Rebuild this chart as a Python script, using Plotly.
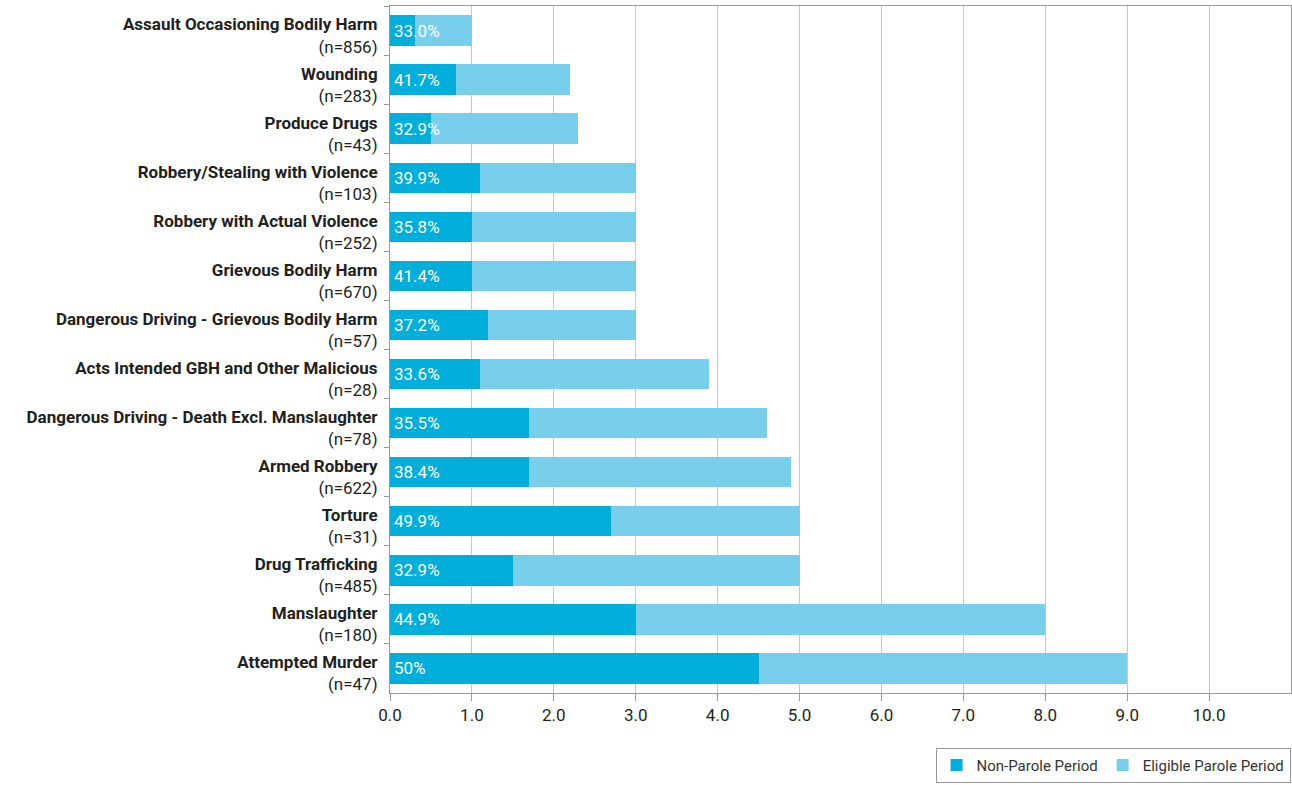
import plotly.graph_objects as go

offences = [
    "Assault Occasioning Bodily Harm", "Wounding", "Produce Drugs",
    "Robbery/Stealing with Violence", "Robbery with Actual Violence",
    "Grievous Bodily Harm", "Dangerous Driving - Grievous Bodily Harm",
    "Acts Intended GBH and Other Malicious",
    "Dangerous Driving - Death Excl. Manslaughter", "Armed Robbery",
    "Torture", "Drug Trafficking", "Manslaughter", "Attempted Murder",
]
counts = [856, 283, 43, 103, 252, 670, 57, 28, 78, 622, 31, 485, 180, 47]
non_parole = [0.3, 0.8, 0.5, 1.1, 1.0, 1.0, 1.2, 1.1, 1.7, 1.7, 2.7, 1.5, 3.0, 4.5]
total_sentence = [1.0, 2.2, 2.3, 3.0, 3.0, 3.0, 3.0, 3.9, 4.6, 4.9, 5.0, 5.0, 8.0, 9.0]
pct_labels = ["33.0%", "41.7%", "32.9%", "39.9%", "35.8%", "41.4%", "37.2%",
              "33.6%", "35.5%", "38.4%", "49.9%", "32.9%", "44.9%", "50%"]
x_ticks = [0, 1, 2, 3, 4, 5, 6, 7, 8, 9, 10]

eligible = [round(t - n, 2) for t, n in zip(total_sentence, non_parole)]
cats = [f"<b>{o}</b><br>(n={c})" for o, c in zip(offences, counts)]

FONT = "Roboto"
fig = go.Figure()
fig.add_trace(go.Bar(y=cats, x=non_parole, orientation="h", name="Non-Parole Period",
                     marker=dict(color="#00AEDB", line=dict(width=0))))
fig.add_trace(go.Bar(y=cats, x=eligible, orientation="h", name="Eligible Parole Period",
                     marker=dict(color="#78CFEB", line=dict(width=0))))

for c, p in zip(cats, pct_labels):
    fig.add_annotation(x=0, y=c, text=p, xref="x", yref="y", showarrow=False,
                       xanchor="left", xshift=2, font=dict(color="white", size=17, family=FONT))

fig.update_layout(
    barmode="stack", bargap=0.38,
    width=1292, height=785,
    margin=dict(l=390, r=1, t=6, b=92, autoexpand=False),
    plot_bgcolor="white", paper_bgcolor="white",
    font=dict(family=FONT, color="#231f20", size=16),
    legend=dict(orientation="h", x=0.9995, xanchor="right", yref="container", y=0.003,
                yanchor="bottom", bordercolor="#999999", borderwidth=1,
                font=dict(size=15, color="#333"), traceorder="normal", itemwidth=30),
    showlegend=True,
)
fig.update_xaxes(range=[0, 11], tickvals=x_ticks, ticktext=[f"{v:.1f}" for v in x_ticks],
                 showgrid=True, gridcolor="#c8c8c8", gridwidth=1,
                 showline=True, linecolor="#999999", linewidth=1, mirror=True,
                 ticks="outside", ticklen=7, tickcolor="#999999", ticklabelstandoff=0,
                 tickfont=dict(size=17, color="#231f20"), zeroline=False)
fig.update_yaxes(autorange="reversed", showline=True, linecolor="#999999", linewidth=1,
                 mirror=True, ticks="outside", ticklen=5, tickcolor="#999999",
                 tickson="boundaries", ticklabelstandoff=8, ticklabelshift=-5,
                 tickfont=dict(size=17, color="#231f20"))

fig.write_html("out.html")
